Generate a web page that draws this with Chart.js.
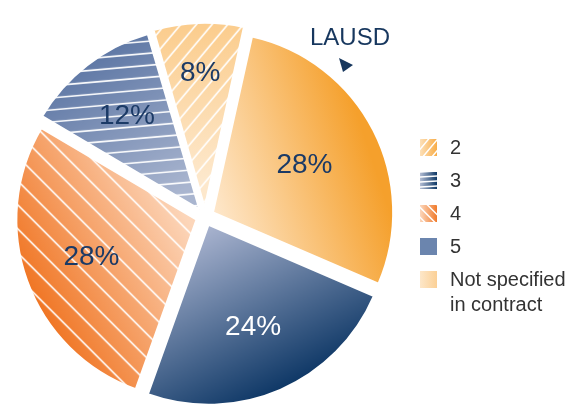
<!DOCTYPE html>
<html>
<head>
<meta charset="utf-8">
<script src="https://cdn.jsdelivr.net/npm/chart.js@4.4.0/dist/chart.umd.min.js"></script>
<style>
  html, body { margin: 0; padding: 0; background: #fff; height: 404px; overflow: hidden; }
  canvas { display: block; }
</style>
</head>
<body>
<canvas id="pie" width="578" height="416"></canvas>
<script>
// categories in legend order (2, 3, 4, 5, not specified)
const categories = ["2", "3", "4", "5", ["Not specified", "in contract"]];
const shares = [8, 12, 28, 24, 28];
const valueLabels = ["8%", "12%", "28%", "24%", "28%"];
const calloutText = "LAUSD";

// look of each slice: gradient points in units of radius, hatch angle + gap
const looks = [
  { light: "#fde8cc", dark: "#fbcd8e", p0: [0, -0.15], p1: [0, -1], hatch: -50, gap: 12,
    swatch: ["#fde0b8", "#f8ad48"], labelAt: 0.72, ink: "#1b3a66" },
  { light: "#a9b5cf", dark: "#6079a6", p0: [-0.1, -0.1], p1: [-0.55, -0.85], hatch: -5, gap: 12,
    swatch: ["#b3bdd4", "#0e3866"], labelAt: 0.64, ink: "#1b3a66" },
  { light: "#fcd6ba", dark: "#f07523", p0: [-0.05, 0], p1: [-0.9, 0.45], hatch: 45, gap: 17,
    swatch: ["#fcd7bc", "#f07a2b"], labelAt: 0.62, ink: "#1b3a66" },
  { light: "#a6b1cd", dark: "#0a3463", p0: [-0.05, 0.05], p1: [0.4, 0.95], hatch: null,
    swatch: ["#6b85ae", "#6b85ae"], labelAt: 0.62, ink: "#ffffff" },
  { light: "#fee9cf", dark: "#f5a02c", p0: [0.05, 0.2], p1: [0.95, -0.1], hatch: null,
    swatch: ["#fde7c9", "#fbd096"], labelAt: 0.57, ink: "#1b3a66" }
];

const OFFSET = 36;
const BORDER = 2;
const n = categories.length;
// pie runs clockwise: not specified, 5, 4, 3, 2
const order = categories.map((c, i) => n - 1 - i);

function geometry(chart) {
  const a = chart.chartArea;
  return {
    cx: (a.left + a.right) / 2,
    cy: (a.top + a.bottom) / 2,
    r: (Math.min(a.right - a.left, a.bottom - a.top) - OFFSET - BORDER) / 2
  };
}

function hatchLines(g, cx, cy, angle, gap, reach, width) {
  g.save();
  g.translate(cx, cy);
  g.rotate(angle * Math.PI / 180);
  g.strokeStyle = "#fff";
  g.lineWidth = width;
  g.beginPath();
  for (let y = -reach; y <= reach; y += gap) {
    g.moveTo(-reach * 2, y);
    g.lineTo(reach * 2, y);
  }
  g.stroke();
  g.restore();
}

const fillCache = {};
function sliceFill(chart, k) {
  const { cx, cy, r } = geometry(chart);
  const key = k + ":" + cx + ":" + cy + ":" + r;
  if (fillCache[key]) return fillCache[key];
  const look = looks[k];
  const off = document.createElement("canvas");
  off.width = chart.width;
  off.height = chart.height;
  const g = off.getContext("2d");
  const grad = g.createLinearGradient(
    cx + look.p0[0] * r, cy + look.p0[1] * r,
    cx + look.p1[0] * r, cy + look.p1[1] * r);
  grad.addColorStop(0, look.light);
  grad.addColorStop(1, look.dark);
  g.fillStyle = grad;
  g.fillRect(0, 0, off.width, off.height);
  if (look.hatch !== null) hatchLines(g, cx, cy, look.hatch, look.gap, 700, 1.6);
  fillCache[key] = g.createPattern(off, "no-repeat");
  return fillCache[key];
}

const sliceLabels = {
  id: "sliceLabels",
  afterDatasetsDraw(chart) {
    const ctx = chart.ctx;
    const meta = chart.getDatasetMeta(0);
    ctx.save();
    ctx.font = '28px "Liberation Sans Narrow", "Liberation Sans", sans-serif';
    ctx.textAlign = "center";
    ctx.textBaseline = "middle";
    meta.data.forEach((arc, j) => {
      const k = order[j];
      const { x, y, startAngle, endAngle, outerRadius } = arc.getProps(
        ["x", "y", "startAngle", "endAngle", "outerRadius"], true);
      const mid = (startAngle + endAngle) / 2;
      const circ = endAngle - startAngle;
      const push = OFFSET / 4 * (2 - Math.sin(Math.min(Math.PI, circ)));
      const dist = looks[k].labelAt * outerRadius + push;
      ctx.fillStyle = looks[k].ink;
      ctx.fillText(valueLabels[k], x + Math.cos(mid) * dist, y + Math.sin(mid) * dist);
    });
    ctx.restore();
  }
};

const sideLegend = {
  id: "sideLegend",
  afterDraw(chart) {
    const ctx = chart.ctx;
    ctx.save();
    const bx = 420, size = 17, top0 = 139, step = 33;
    categories.forEach((cat, k) => {
      const look = looks[k];
      const by = top0 + k * step;
      ctx.save();
      ctx.beginPath();
      ctx.rect(bx, by, size, size);
      ctx.clip();
      const grad = ctx.createLinearGradient(bx, by, bx + size, by);
      grad.addColorStop(0, look.swatch[0]);
      grad.addColorStop(1, look.swatch[1]);
      ctx.fillStyle = grad;
      ctx.fillRect(bx, by, size, size);
      if (look.hatch !== null) {
        const ang = look.hatch === -5 ? -3 : look.hatch;
        hatchLines(ctx, bx + size / 2, by + size / 2 + 1, ang, k === 1 ? 5 : 7, 20, 1.5);
      }
      ctx.restore();
      ctx.fillStyle = "#333333";
      ctx.font = '20px "Liberation Sans", Arial, sans-serif';
      ctx.textAlign = "left";
      ctx.textBaseline = "middle";
      const lines = Array.isArray(cat) ? cat : [cat];
      lines.forEach((line, li) => ctx.fillText(line, 450, by + size / 2 + 1 + li * 25));
    });

    // LAUSD callout
    ctx.fillStyle = "#17375e";
    ctx.font = '24px "Liberation Sans", Arial, sans-serif';
    ctx.textAlign = "left";
    ctx.textBaseline = "alphabetic";
    ctx.fillText(calloutText, 310, 45);
    ctx.beginPath();
    ctx.moveTo(339, 58);
    ctx.lineTo(353, 65);
    ctx.lineTo(343, 72);
    ctx.closePath();
    ctx.fill();
    ctx.restore();
  }
};

new Chart(document.getElementById("pie"), {
  type: "pie",
  data: {
    labels: order.map(k => categories[k]),
    datasets: [{
      data: order.map(k => shares[k]),
      backgroundColor: (c) => {
        const k = order[c.dataIndex];
        if (!c.chart.chartArea) return looks[k].dark;
        return sliceFill(c.chart, k);
      },
      borderColor: "#ffffff",
      borderWidth: BORDER,
      offset: OFFSET
    }]
  },
  options: {
    responsive: false,
    animation: false,
    events: [],
    rotation: 12.5,
    layout: { padding: { left: 6, right: 174, top: 17, bottom: 0 } },
    plugins: {
      legend: { display: false },
      tooltip: { enabled: false }
    }
  },
  plugins: [sliceLabels, sideLegend]
});
</script>
</body>
</html>
